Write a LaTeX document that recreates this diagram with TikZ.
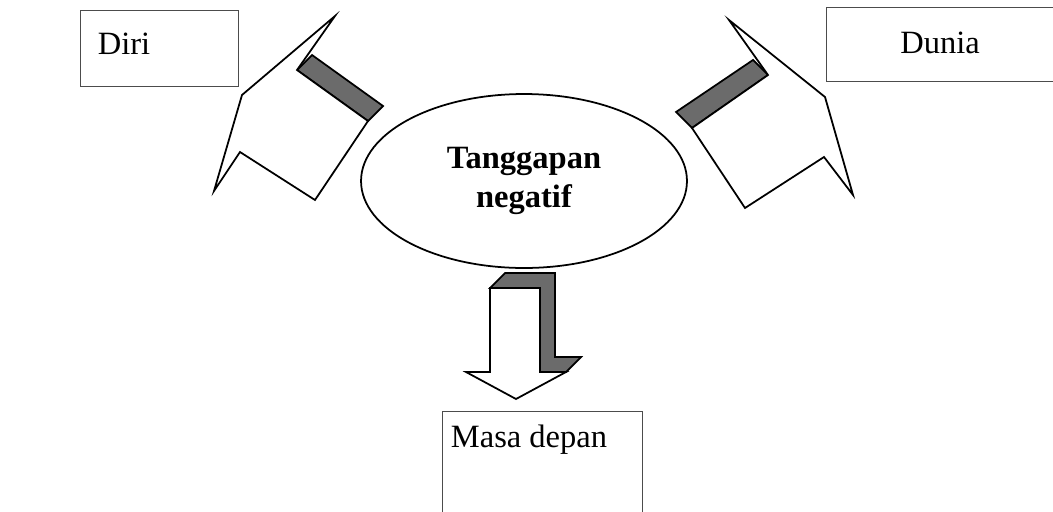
\documentclass[tikz,border=0pt]{standalone}
\usepackage{fontspec}
\setmainfont{Liberation Serif}
\usetikzlibrary{shapes.geometric}
\tikzset{box/.style = {draw=black!70, line width=0.8pt, rectangle, anchor=north west, inner sep=0pt}}
\tikzset{lbl/.style = {font=\fontsize{18.5}{22}\selectfont, inner sep=0pt}}
\tikzset{front/.style = {fill=white, draw=black, line width=1pt, line join=miter}}
\tikzset{side/.style = {fill=black!58, draw=black, line width=1pt, line join=miter}}

\begin{document}
\begin{tikzpicture}[x=0.02cm, y=-0.02cm]
            \clip (0,0) rectangle (1053,511);
            \fill[white] (0,0) rectangle (1053,511);
            % boxes
            \node[box, minimum width=3.16cm, minimum height=1.52cm] (diri) at (80,10) {};
            \node[lbl] (diritxt) at (124,43.5) {Diri};
            \node[box, minimum width=4.8cm, minimum height=1.48cm] (dunia) at (826,7) {};
            \node[lbl] (duniatxt) at (940,43) {Dunia};
            \node[box, minimum width=4cm, minimum height=2.4cm] (masa) at (442,411) {};
            \node[lbl] (masatxt) at (529,440) {Masa depan};
            % centre
            \node[ellipse, draw, line width=1pt, minimum width=6.52cm, minimum height=3.48cm,
                  align=center, font=\fontsize{18.5}{22}\selectfont\bfseries] (tang) at (524,181) {Tanggapan\\negatif};
            % arrow to Diri
            \draw[side] (297,70) -- (312,55) -- (383,106) -- (368,121) -- cycle;
            \draw[front] (242,95) -- (335,16) -- (297,70) -- (368,121) -- (315,200) -- (240,152) -- (214,191) -- cycle;
            % arrow to Dunia
            \draw[side] (692,128) -- (676,112) -- (753,60) -- (768,75) -- cycle;
            \draw[front] (825,97) -- (729,20) -- (768,75) -- (692,128) -- (745,208) -- (824,157) -- (853,195) -- cycle;
            % arrow to Masa depan
            \draw[side] (490,288) -- (505,273) -- (555,273) -- (555,357) -- (581,357) -- (566,372) -- (540,372) -- (540,288) -- cycle;
            \draw[front] (490,288) -- (540,288) -- (540,372) -- (566,372) -- (516,399) -- (466,372) -- (490,372) -- cycle;
\end{tikzpicture}
\end{document}
